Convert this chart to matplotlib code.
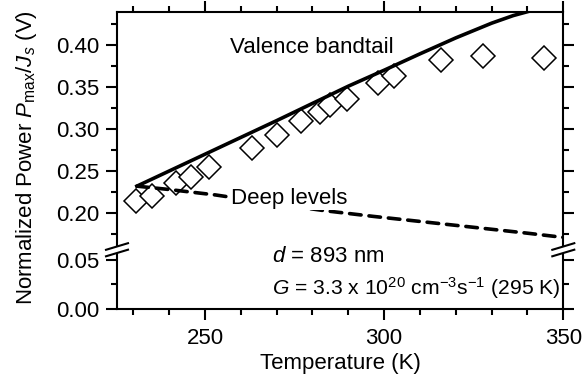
import numpy as np
import matplotlib.pyplot as plt
from matplotlib.ticker import MultipleLocator, FormatStrFormatter
from matplotlib.lines import Line2D
from matplotlib.patches import Polygon

plt.rcParams['font.family'] = ['Liberation Sans', 'DejaVu Sans']
plt.rcParams['mathtext.fontset'] = 'custom'
plt.rcParams['mathtext.rm'] = 'Liberation Sans'
plt.rcParams['mathtext.it'] = 'Liberation Sans:italic'
plt.rcParams['font.size'] = 16

# measured points (open diamonds)
temp = [230.8, 235.2, 242.0, 246.0, 251.0, 263.0, 270.0, 276.7,
        282.1, 284.9, 289.5, 298.4, 302.8, 315.9, 327.5, 344.5]
pnorm = [0.2147, 0.2207, 0.2354, 0.2433, 0.2545, 0.2780, 0.2929, 0.3096,
         0.3206, 0.3286, 0.3357, 0.3551, 0.3631, 0.3822, 0.3873, 0.3842]

# valence bandtail model (solid)
vb_temp = [231, 250, 270, 290, 300, 310, 320, 330, 336, 342]
vb_pnorm = [0.232, 0.270, 0.310, 0.351, 0.370, 0.3895, 0.4085, 0.426, 0.435, 0.442]

# deep levels model (dashed)
dl_temp = [231, 240, 253, 268, 283, 297, 310, 325, 340, 350]
dl_pnorm = [0.232, 0.228, 0.2215, 0.212, 0.203, 0.196, 0.190, 0.183, 0.176, 0.171]

W, H = 585, 377
fig = plt.figure(figsize=(W / 100, H / 100), dpi=100)


def px_box(x0, y0, x1, y1):
    return [x0 / W, 1 - y1 / H, (x1 - x0) / W, (y1 - y0) / H]


ax_up = fig.add_axes(px_box(117, 12, 563.3, 250))
ax_lo = fig.add_axes(px_box(117, 250, 563.3, 309), sharex=ax_up)

ax_up.plot(temp, pnorm, 'D', ms=12, mfc='white', mec='black', mew=1.1, zorder=2)
ax_up.plot(vb_temp, vb_pnorm, '-', color='black', lw=2.6, zorder=3)
ax_up.plot(dl_temp, dl_pnorm, '--', color='black', lw=2.6, dashes=(3.2, 2.2),
           dash_capstyle='round', zorder=3)

ax_up.set_xlim(225.45, 350)
ax_up.set_ylim(0.156, 0.4393)
ax_lo.set_ylim(0.0, 0.0602)

for ax in (ax_up, ax_lo):
    ax.xaxis.set_major_locator(MultipleLocator(50))
    ax.xaxis.set_minor_locator(MultipleLocator(10))
    ax.yaxis.set_major_locator(MultipleLocator(0.05))
    ax.yaxis.set_minor_locator(MultipleLocator(0.025))
    ax.yaxis.set_major_formatter(FormatStrFormatter('%.2f'))
    for s in ax.spines.values():
        s.set_linewidth(1.5)
    ax.tick_params(which='both', direction='out', width=1.5, right=True)
    ax.tick_params(which='major', length=8)
    ax.tick_params(which='minor', length=4.3)
    ax.tick_params(axis='y', pad=5)
    ax.tick_params(axis='x', pad=5.5)

ax_up.spines['bottom'].set_visible(False)
ax_up.tick_params(axis='x', which='both', bottom=False, top=True, labelbottom=False)
ax_lo.spines['top'].set_visible(False)
ax_lo.tick_params(axis='x', which='both', top=False, bottom=True)

ax_lo.set_xlabel('Temperature (K)', labelpad=3)
fig.text(27 / W, 1 - 158 / H, r'Normalized Power $P_{\mathrm{max}}/J_s$ (V)',
         rotation=90, ha='center', va='center')

ax_up.text(257, 0.3908, 'Valence bandtail', ha='left', va='baseline')
ax_up.text(257.2, 0.2107, 'Deep levels', ha='left', va='baseline', zorder=4,
           bbox=dict(facecolor='white', edgecolor='none', pad=0.5))
ax_lo.text(268.6, 0.0483, r'$d$ = 893 nm', ha='left', va='baseline')
ax_lo.text(268.6, 0.0143,
           r'$G$ = 3.3 x 10$^{20}$ cm$^{-3}$s$^{-1}$ (295 K)',
           ha='left', va='baseline', fontsize=15.2)

# axis break marks on both vertical spines
for xc, yc in ((117, 249.5), (563.3, 249.5)):
    def pt(dx, dy):
        return ((xc + dx) / W, 1 - (yc + dy) / H)
    gap = Polygon([pt(-11, 0.3), pt(11, -6.3), pt(11, 0.2), pt(-11, 6.8)],
                  closed=True, transform=fig.transFigure, facecolor='white',
                  edgecolor='none', zorder=5)
    fig.add_artist(gap)
    for off in (-3.0, 3.5):
        x0, y0 = pt(-11, off + 3.3)
        x1, y1 = pt(11, off - 3.3)
        fig.add_artist(Line2D([x0, x1], [y0, y1], transform=fig.transFigure,
                              color='black', lw=1.5, zorder=6))

fig.savefig('out.png', dpi=100)
